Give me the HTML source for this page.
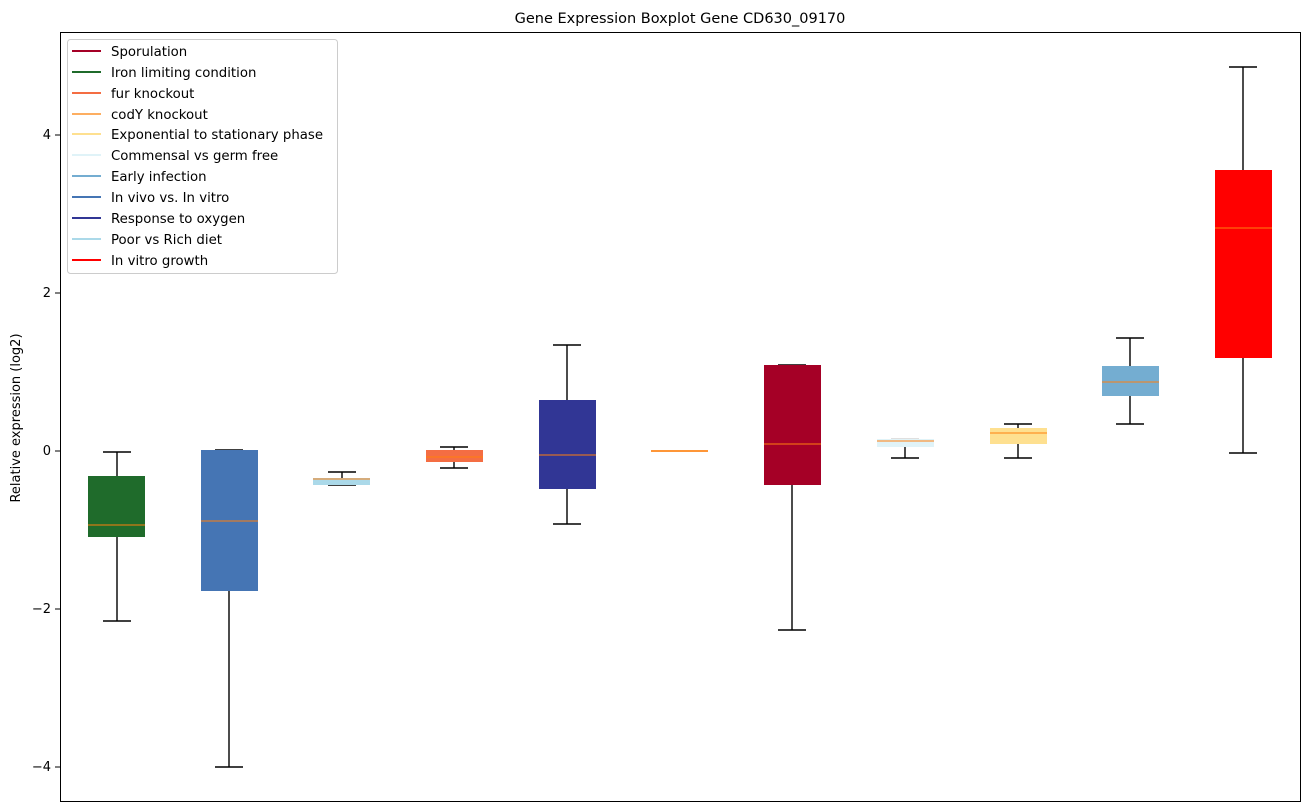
<!DOCTYPE html>
<html><head><meta charset="utf-8"><style>
body{margin:0;background:#fff;}
svg{display:block;font-family:"DejaVu Sans","Liberation Sans",sans-serif;}
</style></head><body>
<svg width="1309" height="812" viewBox="0 0 1309 812" xmlns="http://www.w3.org/2000/svg">
<rect width="1309" height="812" fill="#fff"/>
<text x="680" y="23" font-size="14.5" text-anchor="middle" fill="#000">Gene Expression Boxplot Gene CD630_09170</text>
<g font-size="13" fill="#000" text-anchor="end">
<line x1="55" y1="135" x2="60" y2="135" stroke="#000"/><text x="51" y="139">4</text>
<line x1="55" y1="293" x2="60" y2="293" stroke="#000"/><text x="51" y="297">2</text>
<line x1="55" y1="451" x2="60" y2="451" stroke="#000"/><text x="51" y="455">0</text>
<line x1="55" y1="609" x2="60" y2="609" stroke="#000"/><text x="51" y="613">−2</text>
<line x1="55" y1="767" x2="60" y2="767" stroke="#000"/><text x="51" y="771">−4</text>
</g>
<text transform="translate(20,418) rotate(-90)" font-size="13" text-anchor="middle">Relative expression (log2)</text>
<g stroke="#000" stroke-width="1.4" fill="none">
<path d="M117 452V476M117 537V621M103 452H131M103 621H131"/>
<path d="M229 591V767M215 450H243M215 767H243"/>
<path d="M342 472V478M328 472H356M328 485H356"/>
<path d="M454 447V450M454 462V468M440 447H468M440 468H468"/>
<path d="M567 345V400M567 489V524M553 345H581M553 524H581"/>
<path d="M666 451H694"/>
<path d="M792 485V630M778 365H806M778 630H806"/>
<path d="M905 447V458M891 458H919"/>
<path d="M1018 424V428M1018 444V458M1004 424H1032M1004 458H1032"/>
<path d="M1130 338V366M1130 396V424M1116 338H1144M1116 424H1144"/>
<path d="M1243 67V170M1243 358V453M1229 67H1257M1229 453H1257"/>
</g>
<path d="M891 439H919" stroke="#ccc" stroke-width="1.3"/>
<g>
<rect x="88" y="476" width="57" height="61" fill="#1f6b2b"/>
<rect x="201" y="450" width="57" height="141" fill="#4575b4"/>
<rect x="313" y="478" width="57" height="7" fill="#abd9e9"/>
<rect x="426" y="450" width="57" height="12" fill="#f46d43"/>
<rect x="539" y="400" width="57" height="89" fill="#313695"/>
<rect x="651" y="450" width="57" height="2" fill="#fdae61"/>
<rect x="764" y="365" width="57" height="120" fill="#a50026"/>
<rect x="877" y="439" width="57" height="8" fill="#e0f3f8"/>
<rect x="990" y="428" width="57" height="16" fill="#fee090"/>
<rect x="1102" y="366" width="57" height="30" fill="#74add1"/>
<rect x="1215" y="170" width="57" height="188" fill="#ff0000"/>
</g>
<g stroke="#ff7f0e" stroke-width="1">
<path d="M88 525H145M201 521H258M313 479H370M426 457H483M539 455H596M651 451H708M764 444H821M877 441H934M990 433H1047M1102 382H1159M1215 228H1272"/>
</g>
<rect x="60.5" y="32.5" width="1240" height="769" fill="none" stroke="#000" stroke-width="1"/>
<rect x="67.5" y="39.5" width="270" height="234" rx="3" fill="#fff" fill-opacity="0.8" stroke="#ccc"/>
<g stroke-width="2" font-size="13.3" fill="#000">
<line x1="72" y1="51" x2="101" y2="51" stroke="#a50026"/><text x="111" y="56">Sporulation</text>
<line x1="72" y1="72" x2="101" y2="72" stroke="#1f6b2b"/><text x="111" y="77">Iron limiting condition</text>
<line x1="72" y1="93" x2="101" y2="93" stroke="#f46d43"/><text x="111" y="98">fur knockout</text>
<line x1="72" y1="114" x2="101" y2="114" stroke="#fdae61"/><text x="111" y="119">codY knockout</text>
<line x1="72" y1="134" x2="101" y2="134" stroke="#fee090"/><text x="111" y="139">Exponential to stationary phase</text>
<line x1="72" y1="155" x2="101" y2="155" stroke="#e0f3f8"/><text x="111" y="160">Commensal vs germ free</text>
<line x1="72" y1="176" x2="101" y2="176" stroke="#74add1"/><text x="111" y="181">Early infection</text>
<line x1="72" y1="197" x2="101" y2="197" stroke="#4575b4"/><text x="111" y="202">In vivo vs. In vitro</text>
<line x1="72" y1="218" x2="101" y2="218" stroke="#313695"/><text x="111" y="223">Response to oxygen</text>
<line x1="72" y1="239" x2="101" y2="239" stroke="#abd9e9"/><text x="111" y="244">Poor vs Rich diet</text>
<line x1="72" y1="260" x2="101" y2="260" stroke="#ff0000"/><text x="111" y="265">In vitro growth</text>
</g>
</svg>
</body></html>
